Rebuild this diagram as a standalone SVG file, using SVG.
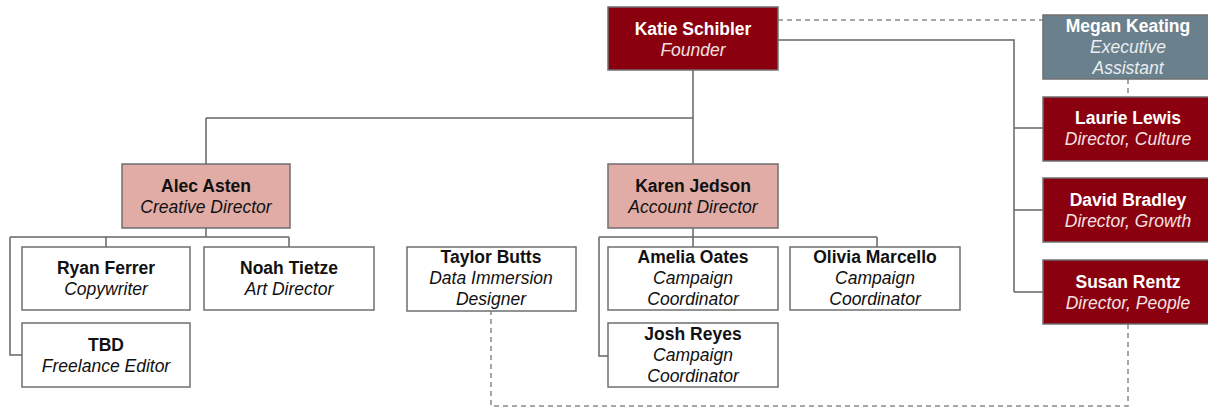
<svg xmlns="http://www.w3.org/2000/svg" width="1208" height="408" viewBox="0 0 1208 408">
<style>
.box{stroke:#6f6f6f;stroke-width:1.5}
.red{fill:#8b000f}
.pink{fill:#e0aca5}
.slate{fill:#6a808c}
.white{fill:#ffffff}
text{font-family:"Liberation Sans",Arial,sans-serif;font-size:17.5px;text-anchor:middle}
.n{font-weight:bold}
.t{font-style:italic}
.dk{fill:#111111}
.lt{fill:#ffffff}
.ltt{fill:#f3e2e2}
.slt{fill:#e9eef1}
.line{fill:none;stroke:#666666;stroke-width:1.5}
.dash{fill:none;stroke:#8a8a8a;stroke-width:1.5;stroke-dasharray:5,4}
</style>
<rect width="1208" height="408" fill="#ffffff"/>
<g id="connectors">
<path class="line" d="M693 70V118M206 118H693M206 118V164M693 118V164"/>
<path class="line" d="M778 40H1014V292M1014 128H1043M1014 210H1043M1014 292H1043"/>
<path class="line" d="M206 228V237M10 237H289M106 237V247M289 237V247M10 237V355H22"/>
<path class="line" d="M693 228V237M599 237H877M693 237V247M877 237V247M599 237V356H608"/>
<path class="dash" d="M778 20H1043"/>
<path class="dash" d="M1128 79V97"/>
<path class="dash" d="M1128 324V406H491V311"/>
</g>
<g id="katie"><rect class="box red" x="608" y="7" width="170" height="63"/><text class="n lt" x="693" y="35">Katie Schibler</text><text class="t ltt" x="693" y="56">Founder</text></g>
<g id="megan"><rect class="box slate" x="1043" y="15" width="170" height="64"/><text class="n lt" x="1128" y="32">Megan Keating</text><text class="t slt" x="1128" y="53">Executive</text><text class="t slt" x="1128" y="74">Assistant</text></g>
<g id="laurie"><rect class="box red" x="1043" y="97" width="170" height="64"/><text class="n lt" x="1128" y="124">Laurie Lewis</text><text class="t ltt" x="1128" y="145">Director, Culture</text></g>
<g id="david"><rect class="box red" x="1043" y="178" width="170" height="64"/><text class="n lt" x="1128" y="206">David Bradley</text><text class="t ltt" x="1128" y="227">Director, Growth</text></g>
<g id="susan"><rect class="box red" x="1043" y="260" width="170" height="64"/><text class="n lt" x="1128" y="288">Susan Rentz</text><text class="t ltt" x="1128" y="309">Director, People</text></g>
<g id="alec"><rect class="box pink" x="122" y="164" width="168" height="64"/><text class="n dk" x="206" y="192">Alec Asten</text><text class="t dk" x="206" y="213">Creative Director</text></g>
<g id="karen"><rect class="box pink" x="608" y="164" width="170" height="64"/><text class="n dk" x="693" y="192">Karen Jedson</text><text class="t dk" x="693" y="213">Account Director</text></g>
<g id="ryan"><rect class="box white" x="22" y="247" width="168" height="63"/><text class="n dk" x="106" y="274">Ryan Ferrer</text><text class="t dk" x="106" y="295">Copywriter</text></g>
<g id="noah"><rect class="box white" x="204" y="247" width="170" height="63"/><text class="n dk" x="289" y="274">Noah Tietze</text><text class="t dk" x="289" y="295">Art Director</text></g>
<g id="tbd"><rect class="box white" x="22" y="323" width="168" height="64"/><text class="n dk" x="106" y="351">TBD</text><text class="t dk" x="106" y="372">Freelance Editor</text></g>
<g id="taylor"><rect class="box white" x="407" y="247" width="169" height="64"/><text class="n dk" x="491" y="263">Taylor Butts</text><text class="t dk" x="491" y="284">Data Immersion</text><text class="t dk" x="491" y="305">Designer</text></g>
<g id="amelia"><rect class="box white" x="608" y="247" width="170" height="63"/><text class="n dk" x="693" y="263">Amelia Oates</text><text class="t dk" x="693" y="284">Campaign</text><text class="t dk" x="693" y="305">Coordinator</text></g>
<g id="olivia"><rect class="box white" x="790" y="247" width="170" height="63"/><text class="n dk" x="875" y="263">Olivia Marcello</text><text class="t dk" x="875" y="284">Campaign</text><text class="t dk" x="875" y="305">Coordinator</text></g>
<g id="josh"><rect class="box white" x="608" y="323" width="170" height="64"/><text class="n dk" x="693" y="340">Josh Reyes</text><text class="t dk" x="693" y="361">Campaign</text><text class="t dk" x="693" y="382">Coordinator</text></g>
</svg>
